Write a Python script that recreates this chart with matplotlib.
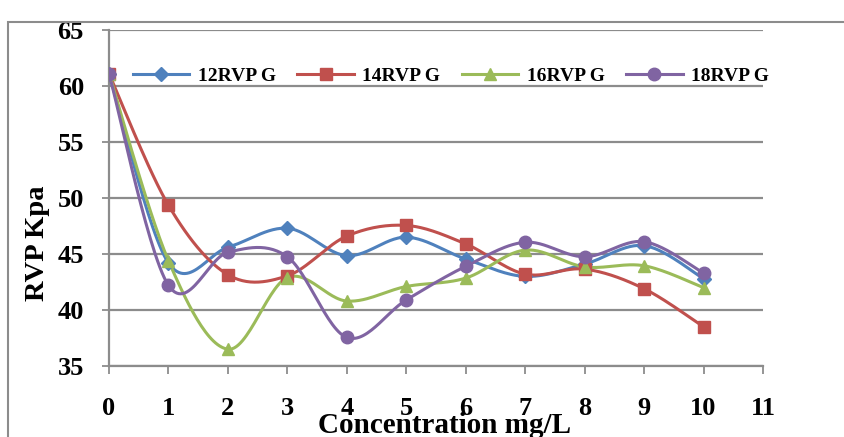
import numpy as np
import matplotlib
matplotlib.use("Agg")
import matplotlib.pyplot as plt
from matplotlib.lines import Line2D
from matplotlib.patches import Rectangle

# concentration steps and measured vapour pressure per gasoline grade
conc = [0, 1, 2, 3, 4, 5, 6, 7, 8, 9, 10]
rvp_12 = [61.1, 44.2, 45.6, 47.3, 44.85, 46.5, 44.55, 43.0, 44.1, 45.75, 42.8]
rvp_14 = [61.1, 49.35, 43.15, 43.05, 46.6, 47.55, 45.9, 43.2, 43.65, 41.9, 38.5]
rvp_16 = [61.1, 44.4, 36.5, 42.9, 40.8, 42.1, 42.85, 45.35, 43.85, 43.95, 42.0]
rvp_18 = [61.1, 42.2, 45.15, 44.75, 37.55, 40.9, 43.9, 46.05, 44.75, 46.1, 43.3]
labels = ["12RVP G", "14RVP G", "16RVP G", "18RVP G"]

colors = ["#4F81BD", "#C0504D", "#9BBB59", "#8064A2"]
markers = ["D", "s", "^", "o"]
msizes = [7, 9, 8, 9]


def smooth(x, y, n=30):
    # Catmull-Rom style bezier through every point (spreadsheet "smoothed line")
    x = np.asarray(x, float)
    y = np.asarray(y, float)
    px = np.concatenate([[x[0]], x, [x[-1]]])
    py = np.concatenate([[y[0]], y, [y[-1]]])
    t = np.linspace(0, 1, n)[:, None]
    xs, ys = [], []
    for i in range(1, len(px) - 2):
        p0 = np.array([px[i], py[i]])
        p3 = np.array([px[i + 1], py[i + 1]])
        c1 = p0 + (np.array([px[i + 1], py[i + 1]]) - np.array([px[i - 1], py[i - 1]])) / 6
        c2 = p3 - (np.array([px[i + 2], py[i + 2]]) - np.array([px[i], py[i]])) / 6
        b = ((1 - t) ** 3) * p0 + 3 * ((1 - t) ** 2) * t * c1 + 3 * (1 - t) * t ** 2 * c2 + t ** 3 * p3
        xs.append(b[:, 0])
        ys.append(b[:, 1])
    return np.concatenate(xs), np.concatenate(ys)


plt.rcParams["font.family"] = ["Liberation Serif", "DejaVu Serif"]
plt.rcParams["font.weight"] = "bold"

fig = plt.figure(figsize=(8.44, 4.37), dpi=100)
ax = fig.add_axes([109 / 844, 1 - 366 / 437, (763 - 109) / 844, (366 - 30) / 437])

# outer chart frame
fig.patches.append(Rectangle((8 / 844, -0.1), 1.2, 1 - 22 / 437 + 0.1,
                             transform=fig.transFigure, fill=False,
                             edgecolor="#8c8c8c", lw=1.5))

handles = []
for ys, lab, c, m, ms in zip([rvp_12, rvp_14, rvp_16, rvp_18], labels, colors, markers, msizes):
    sx, sy = smooth(conc, ys)
    ax.plot(sx, sy, color=c, lw=2.2, zorder=3)
    ax.plot(conc, ys, ls="none", marker=m, ms=ms, color=c, zorder=4)
    handles.append(Line2D([], [], color=c, lw=2.2, marker=m, ms=ms, label=lab))

ax.set_xlim(0, 11)
ax.set_ylim(35, 65)
ax.set_xticks(range(0, 12))
ax.set_yticks(range(35, 66, 5))
ax.yaxis.grid(True, color="#8c8c8c", lw=1.6)
ax.set_axisbelow(True)
for s in ["top", "right"]:
    ax.spines[s].set_visible(False)
for s in ["left", "bottom"]:
    ax.spines[s].set_color("#8c8c8c")
    ax.spines[s].set_linewidth(1.6)
ax.tick_params(axis="x", length=6, width=1.3, color="#8c8c8c", pad=16, labelsize=19)
ax.tick_params(axis="y", length=5, width=1.3, color="#8c8c8c", pad=13, labelsize=19)
for lab in ax.get_xticklabels() + ax.get_yticklabels():
    lab.set_fontweight("bold")

fig.text(445 / 844, 1 - 433 / 437, "Concentration mg/L", ha="center", va="baseline",
         fontsize=21, fontweight="bold")
fig.text(37 / 844, 1 - 243 / 437, "RVP Kpa", ha="center", va="center", rotation=90,
         fontsize=20.5, fontweight="bold")

fig.legend(handles=handles, loc="center", ncol=4, frameon=False,
           bbox_to_anchor=(451 / 844, 1 - 76 / 437),
           handlelength=2.9, columnspacing=1.1, handletextpad=0.45,
           prop={"weight": "bold", "size": 14})

fig.savefig("out.png", dpi=100, facecolor="white")
